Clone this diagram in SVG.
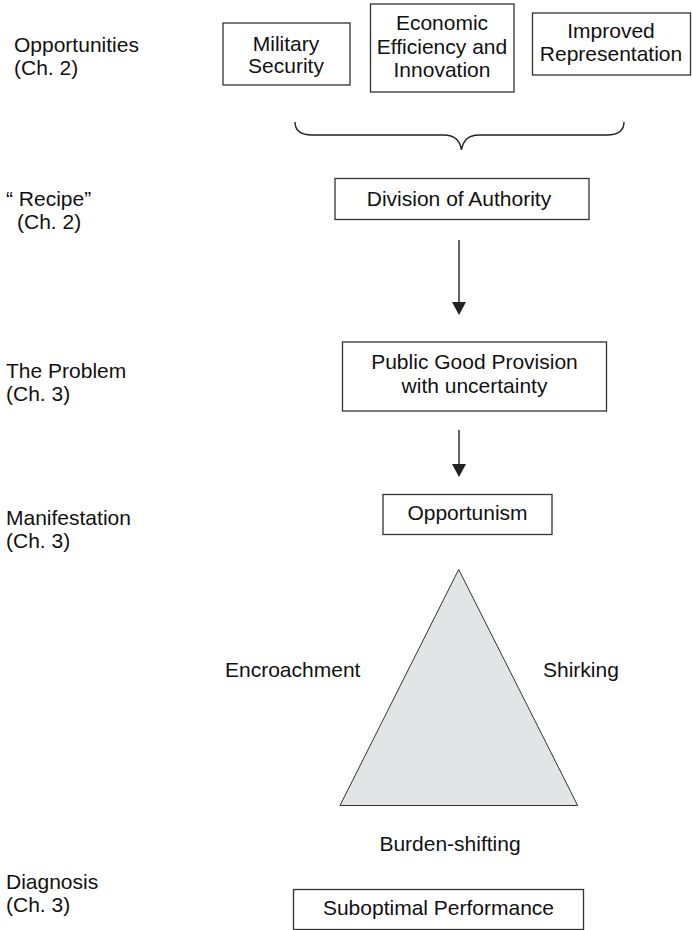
<svg xmlns="http://www.w3.org/2000/svg" width="692" height="930" viewBox="0 0 692 930">
  <style>
    text { font-family: "Liberation Sans", Arial, sans-serif; font-size: 21px; fill: #111; }
    .mid { text-anchor: middle; }
    .box { fill: #fff; stroke: #333; stroke-width: 1.3; }
    .edge { stroke: #222; stroke-width: 1.4; fill: none; }
    .head { fill: #222; stroke: none; }
  </style>

  <!-- row labels on the left -->
  <g id="row-labels">
    <text x="14" y="52">Opportunities</text>
    <text x="14" y="75">(Ch. 2)</text>
    <text x="6" y="206">“ Recipe”</text>
    <text x="17" y="229">(Ch. 2)</text>
    <text x="6" y="378">The Problem</text>
    <text x="6" y="401">(Ch. 3)</text>
    <text x="6" y="525">Manifestation</text>
    <text x="6" y="548">(Ch. 3)</text>
    <text x="6" y="889">Diagnosis</text>
    <text x="6" y="912">(Ch. 3)</text>
  </g>

  <g id="military-security">
    <rect class="box" x="223" y="23" width="127" height="62"/>
    <text class="mid" x="286" y="51">Military</text>
    <text class="mid" x="286" y="73">Security</text>
  </g>

  <g id="economic-efficiency">
    <rect class="box" x="370.5" y="4" width="143.5" height="88"/>
    <text class="mid" x="442" y="30">Economic</text>
    <text class="mid" x="442" y="54">Efficiency and</text>
    <text class="mid" x="442" y="77">Innovation</text>
  </g>

  <g id="improved-representation">
    <rect class="box" x="532.5" y="13" width="158" height="62"/>
    <text class="mid" x="611" y="38">Improved</text>
    <text class="mid" x="611" y="61">Representation</text>
  </g>

  <g id="division-of-authority">
    <rect class="box" x="335" y="178.5" width="254" height="41"/>
    <text class="mid" x="459" y="206">Division of Authority</text>
  </g>

  <g id="public-good-provision">
    <rect class="box" x="342.5" y="342" width="264" height="69"/>
    <text class="mid" x="474.5" y="369">Public Good Provision</text>
    <text class="mid" x="474.5" y="393">with uncertainty</text>
  </g>

  <g id="opportunism">
    <rect class="box" x="383" y="494.5" width="169" height="40"/>
    <text class="mid" x="467.5" y="520">Opportunism</text>
  </g>

  <g id="opportunism-triangle">
    <polygon points="458.7,569.5 340,805.5 577.7,805.5" fill="#e3e4e6" stroke="#333" stroke-width="1"/>
    <text x="225" y="677">Encroachment</text>
    <text x="543" y="677">Shirking</text>
    <text class="mid" x="450" y="851">Burden-shifting</text>
  </g>

  <g id="suboptimal-performance">
    <rect class="box" x="293.5" y="889.5" width="290" height="40"/>
    <text class="mid" x="438.5" y="915">Suboptimal Performance</text>
  </g>

  <!-- connectors: brace gathering the opportunities, then the downward arrows -->
  <g id="connectors">
    <path class="edge" stroke-width="1.1" d="M295,122 C295,131 302,135 312,135 L444,135 C454,135 460,140 461.5,150 C463,140 469,135 479,135 L607,135 C617,135 624,131 624,122"/>
    <line class="edge" x1="459" y1="240" x2="459" y2="303"/>
    <polygon class="head" points="452,302 466,302 459,315"/>
    <line class="edge" x1="459" y1="430" x2="459" y2="465"/>
    <polygon class="head" points="452,464 466,464 459,477"/>
  </g>
</svg>
